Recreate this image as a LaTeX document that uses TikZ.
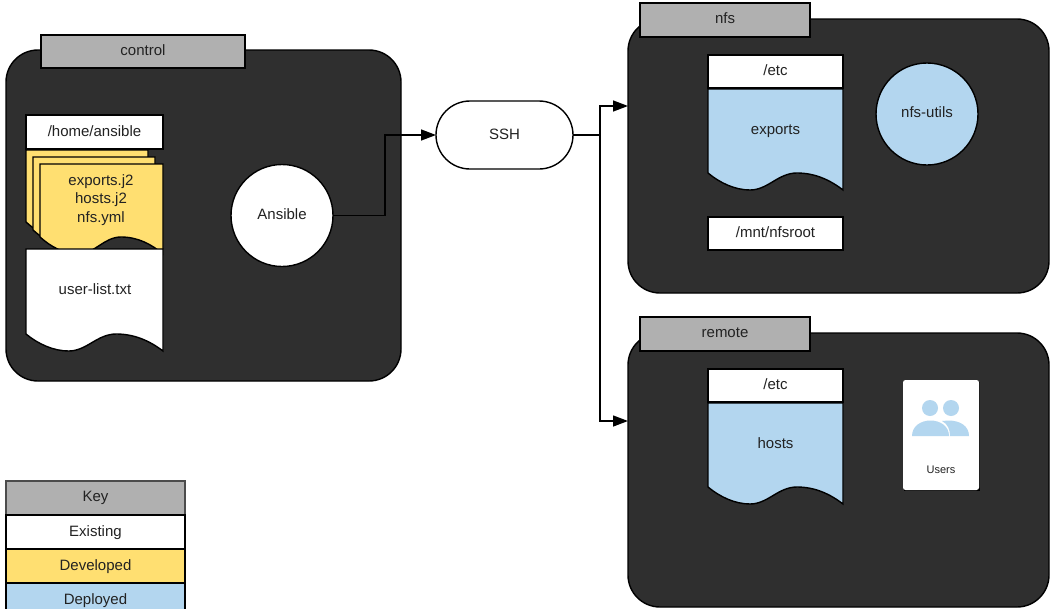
\documentclass[tikz,border=0pt]{standalone}
\usepackage{fontspec}
\setmainfont{Liberation Sans}
\usetikzlibrary{arrows.meta,positioning}
\definecolor{panelc}{HTML}{2F2F2F}
\definecolor{tabc}{HTML}{B0B0B0}
\definecolor{devc}{HTML}{FFDF71}
\definecolor{depc}{HTML}{B3D6EF}
\definecolor{inkc}{HTML}{222222}
\tikzset{
  base/.style={inner sep=0pt,outer sep=0pt,text=inkc,font=\fontsize{15}{18.4}\selectfont,align=center},
  panel/.style={base,draw=black,line width=1.4pt,fill=panelc,rounded corners=32pt},
  tabbox/.style={base,draw=black,line width=1.4pt,fill=tabc},
  whitebox/.style={base,draw=black,line width=1.4pt,fill=white},
  roundcirc/.style={base,circle,draw=black,line width=1.4pt,minimum size=102pt},
  label/.style={base,text height=11pt,text depth=3pt},
  keyrow/.style={base,draw=#1,line width=1.4pt,minimum width=179pt,minimum height=34pt},
  keyrow/.default=black,
  link/.style={draw=black,line width=1.4pt},
  arrowlink/.style={link,-{Triangle[length=15pt,width=11pt]}},
  sheetline/.style={draw=black,line width=1.4pt,line join=miter}
}
% fill, left x, top y, width, height
\newcommand{\docsheet}[5]{%
  \pgfmathsetmacro{\dsb}{#5}%
  \pgfmathsetmacro{\dsc}{#5-17}%
  \filldraw[sheetline,fill=#1,shift={(#2,#3)},xscale=#4/135]
    (0,0) -- (135,0) -- (135,\dsb)
    .. controls (122,\dsb-10) and (107,\dsc) .. (89,\dsc)
    .. controls (70,\dsc) and (60,\dsb) .. (42,\dsb)
    .. controls (27,\dsb) and (12,\dsc+10) .. (0,\dsc) -- cycle;%
}
\begin{document}
\begin{tikzpicture}[x=1pt,y=-1pt]
\useasboundingbox (0,0) rectangle (1054,608);
\clip (0,0) rectangle (1054,608);
\fill[white] (0,0) rectangle (1054,608);

% panels
\node[panel,minimum width=395pt,minimum height=331pt] (control) at (203.5,215.5) {};
\node[panel,minimum width=421pt,minimum height=274pt] (nfs) at (838.5,156) {};
\node[panel,minimum width=421pt,minimum height=274pt] (remote) at (838.5,470) {};

% panel tabs
\node[tabbox,minimum width=204pt,minimum height=33pt] (controltab) at (143,51.5) {};
\node[label] (controltext) at (143,51) {control};
\node[tabbox,minimum width=170pt,minimum height=34pt] (nfstab) at (725,20) {};
\node[label] (nfstext) at (725,19.5) {nfs};
\node[tabbox,minimum width=170pt,minimum height=34pt] (remotetab) at (725,334) {};
\node[label] (remotetext) at (725,333) {remote};

% control contents
\docsheet{devc}{26}{150}{122}{89}
\docsheet{devc}{33}{157}{122}{90}
\docsheet{devc}{40}{164}{123}{90}
\node[whitebox,minimum width=137pt,minimum height=34pt] (homebox) at (94.5,132) {};
\node[label] (hometext) at (94.5,132) {/home/ansible};
\node[base] (templates) at (101,200) {exports.j2\\hosts.j2\\nfs.yml};
\docsheet{white}{26}{249}{137}{102}
\node[label] (userlist) at (95,290) {user-list.txt};
\node[roundcirc,fill=white] (ansible) at (282,215.5) {};
\node[label] (ansibletext) at (282,215) {Ansible};

% ssh
\node[whitebox,rounded corners=34pt,minimum width=137pt,minimum height=68pt] (ssh) at (504.5,135) {};
\node[label] (sshtext) at (504.5,135) {SSH};

% nfs contents
\node[whitebox,minimum width=135pt,minimum height=33pt] (etcone) at (775.5,71.5) {};
\node[label] (etconetext) at (775.5,71.5) {/etc};
\docsheet{depc}{708}{89}{135}{101}
\node[label] (exports) at (775.5,130) {exports};
\node[whitebox,minimum width=135pt,minimum height=33pt] (mnt) at (775.5,233.5) {};
\node[label] (mnttext) at (775.5,233.5) {/mnt/nfsroot};
\node[roundcirc,fill=depc] (utils) at (927,114) {};
\node[label] (utilstext) at (927,113) {nfs-utils};

% remote contents
\node[whitebox,minimum width=135pt,minimum height=33pt] (etctwo) at (775.5,385.5) {};
\node[label] (etctwotext) at (775.5,385) {/etc};
\docsheet{depc}{708}{403}{135}{101}
\node[label] (hosts) at (775.5,444) {hosts};

% users card
\fill[black] (904,382) rectangle (979.5,491);
\node[base,fill=white,rounded corners=2.5pt,minimum width=76pt,minimum height=110pt] (card) at (941,435) {};
\fill[depc] (951,408) circle (8);
\fill[depc] (948.5,420.5) .. controls (960,420.5) and (969,426) .. (969,436) -- (950,436)
  .. controls (950,430) and (948,424) .. (942,421) -- cycle;
\fill[depc] (930,408) circle (8);
\fill[depc] (912,436) .. controls (912,426) and (921,420.5) .. (930.5,420.5)
  .. controls (940,420.5) and (949,426) .. (949,436) -- cycle;
\node[base,font=\fontsize{11}{12}\selectfont] (userstext) at (941,469.5) {Users};

% connectors
\coordinate (elbow) at (385,175);
\coordinate (split) at (600,135);
\coordinate (nfsin) at (628,106);
\coordinate (remotein) at (628,421);
\draw[link] (ansible.east) -| (elbow);
\draw[arrowlink] (elbow) |- (ssh.west);
\draw[link] (ssh.east) -- (split);
\draw[arrowlink] (split) |- (nfsin);
\draw[arrowlink] (split) |- (remotein);

% key
\node[keyrow=black!70,fill=tabc] (keyhead) at (95.5,498) {};
\node[label] (keytext) at (95.5,497.5) {Key};
\node[keyrow,fill=white] (keyexisting) at (95.5,532) {};
\node[label] (existingtext) at (95.5,532) {Existing};
\node[keyrow,fill=devc] (keydeveloped) at (95.5,566) {};
\node[label] (developedtext) at (95.5,566) {Developed};
\node[keyrow,fill=depc] (keydeployed) at (95.5,600) {};
\node[label] (deployedtext) at (95.5,600) {Deployed};
\end{tikzpicture}
\end{document}
